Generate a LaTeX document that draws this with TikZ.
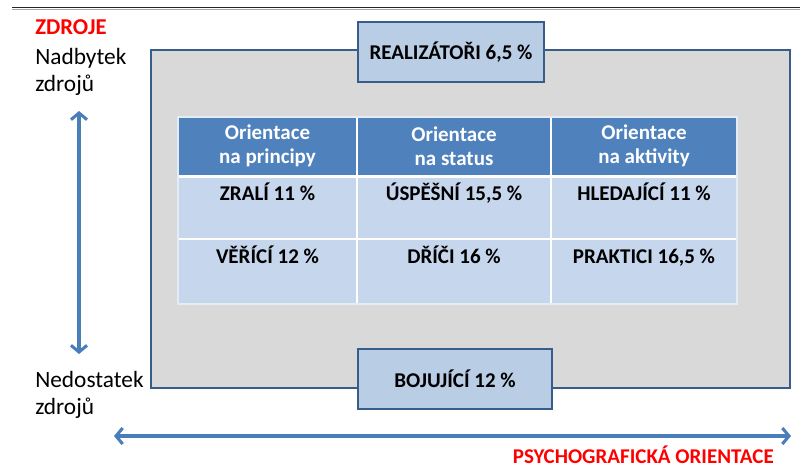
\documentclass[tikz,border=0pt]{standalone}
\usepackage{fontspec}
\setmainfont{Carlito}
\usetikzlibrary{arrows.meta}
\definecolor{frameblue}{HTML}{385D8A}
\definecolor{panelgray}{HTML}{D9D9D9}
\definecolor{boxblue}{HTML}{B9CDE5}
\definecolor{hdrblue}{HTML}{4F81BD}
\definecolor{cellblue}{HTML}{C6D6EC}
\definecolor{arrowblue}{HTML}{4A7EBB}
\definecolor{redtext}{HTML}{FF0000}
\begin{document}
\begin{tikzpicture}[x=0.75pt,y=-0.75pt,
  txt/.style={font=\fontsize{15.75pt}{18pt}\selectfont, inner sep=0pt},
  bigtxt/.style={font=\fontsize{17.5pt}{20pt}\selectfont, inner sep=0pt},
  boldtxt/.style={txt, font=\fontsize{15.75pt}{18pt}\selectfont\bfseries},
  redlabel/.style={inner sep=0pt, text=redtext, font=\fontsize{17pt}{20pt}\selectfont\bfseries},
  catbox/.style={draw=frameblue, fill=boxblue, line width=1.5pt, minimum height=45pt, inner sep=0pt,
     font=\fontsize{15.75pt}{18pt}\selectfont\bfseries},
  hdrtxt/.style={text=white, align=center, inner sep=0pt, font=\fontsize{15.75pt}{18pt}\selectfont\bfseries},
  axisarrow/.style={draw=arrowblue, line width=2.3pt, {Straight Barb[length=5pt,width=12pt]}-{Straight Barb[length=5pt,width=12pt]}}
]
\useasboundingbox (0,0) rectangle (800,469);

% top rule
\draw[line width=1.3pt, black!85] (12,7.5) -- (800,7.5);
\draw[line width=0.8pt, black!35] (12,9.4) -- (800,9.4);

% panel
\node[draw=frameblue, fill=panelgray, line width=1.5pt, minimum width=479.25pt, minimum height=253.5pt, inner sep=0pt] (panel) at (470.5,219) {};

% table cells
\fill[hdrblue] (178,117) rectangle (737,175);
\fill[cellblue] (178,175) rectangle (737,304);
\draw[white, line width=2.4pt] (178,176.5) -- (737,176.5);
\draw[white, line width=1.1pt] (178,239) -- (737,239);
\draw[white, line width=1.1pt] (357,117) -- (357,304);
\draw[white, line width=1.1pt] (551,117) -- (551,304);
\draw[white!85!hdrblue, line width=0.8pt] (178,117) rectangle (737,304);

% header texts
\node[hdrtxt] (h1) at (267.5,146) {Orientace\\na principy};
\node[hdrtxt] (h2) at (454,146) {Orientace\\na status};
\node[hdrtxt] (h3) at (644,146) {Orientace\\na aktivity};

% body texts
\node[boldtxt, anchor=base] (c11) at (267.5,200.5) {ZRALÍ 11 \%};
\node[boldtxt, anchor=base] (c12) at (454,200.5) {ÚSPĚŠNÍ 15,5 \%};
\node[boldtxt, anchor=base] (c13) at (644,200.5) {HLEDAJÍCÍ 11 \%};
\node[boldtxt, anchor=base] (c21) at (267.5,263.5) {VĚŘÍCÍ 12 \%};
\node[boldtxt, anchor=base] (c22) at (454,263.5) {DŘÍČI 16 \%};
\node[boldtxt, anchor=base] (c23) at (644,263.5) {PRAKTICI 16,5 \%};

% top / bottom boxes
\node[catbox, minimum width=139.5pt] (real) at (451,52) {REALIZÁTOŘI 6,5 \%};
\node[catbox, minimum width=145.5pt] (boj) at (455,379) {BOJUJÍCÍ 12 \%};

% left labels
\node[redlabel, anchor=base west] (zdroje) at (35,34) {ZDROJE};
\node[bigtxt, anchor=base west] (nad1) at (35,64) {Nadbytek};
\node[bigtxt, anchor=base west] (nad2) at (35,91) {zdrojů};
\node[bigtxt, anchor=base west] (ned1) at (35,387) {Nedostatek};
\node[bigtxt, anchor=base west] (ned2) at (35,414) {zdrojů};

% bottom label
\node[redlabel, anchor=base east, font=\fontsize{15.75pt}{18pt}\selectfont\bfseries] (psy) at (774,463) {PSYCHOGRAFICKÁ ORIENTACE};

% axes
\coordinate (vtop) at (79,111);
\coordinate (vbot) at (79,354);
\coordinate (hleft) at (114,436);
\coordinate (hright) at (791,436);
\draw[axisarrow] (vtop) -- (vbot);
\draw[axisarrow] (hleft) -- (hright);
\end{tikzpicture}
\end{document}
